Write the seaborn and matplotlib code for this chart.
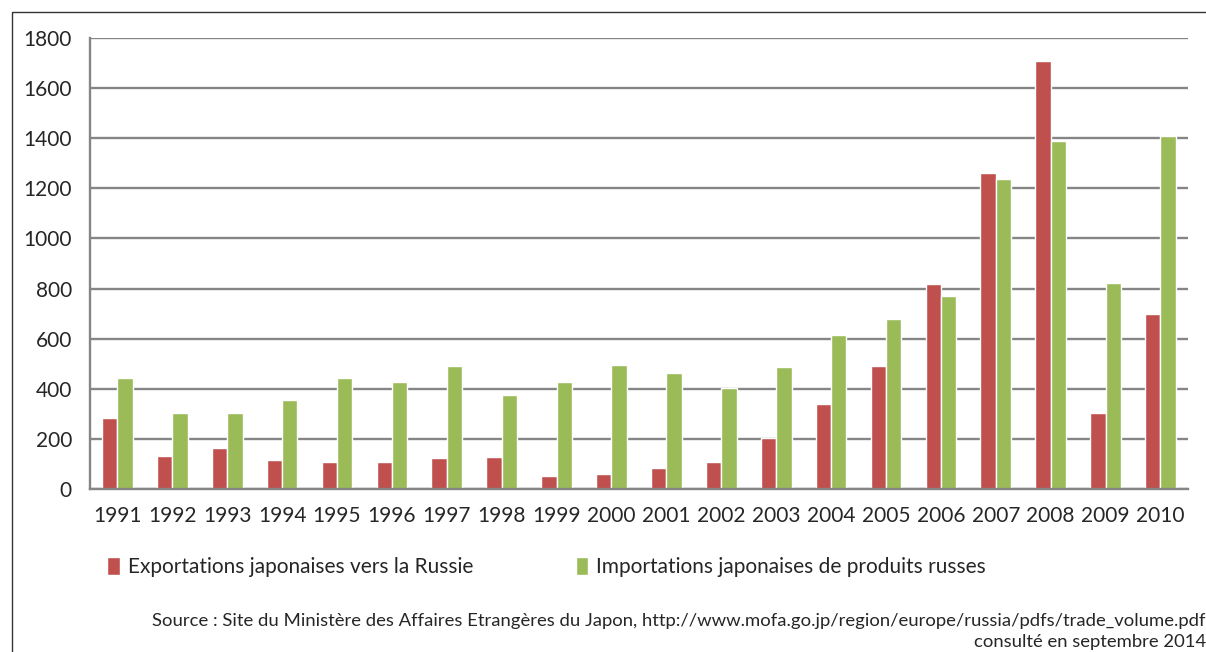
import numpy as np
import pandas as pd
import seaborn as sns
import matplotlib.pyplot as plt
from matplotlib.patches import Rectangle
from matplotlib.ticker import FixedLocator

# Données (millions de dollars)
annees = [str(a) for a in range(1991, 2011)]
exportations = [284, 133, 165, 117, 106, 106, 122, 127, 52, 58,
                84, 109, 203, 341, 492, 817, 1263, 1709, 304, 700]
importations = [445, 305, 305, 354, 445, 429, 489, 375, 429, 494,
                464, 405, 485, 615, 680, 769, 1237, 1387, 824, 1408]
lab_exp = "Exportations japonaises vers la Russie"
lab_imp = "Importations japonaises de produits russes"
couleurs = ["#C0504D", "#9BBB59"]

df = pd.DataFrame({
    "annee": annees * 2,
    "valeur": exportations + importations,
    "serie": [lab_exp] * len(annees) + [lab_imp] * len(annees),
})

sns.set_style("white")
plt.rcParams['font.family'] = ['Lato', 'DejaVu Sans']

fig = plt.figure(figsize=(12.06, 6.52), dpi=100)
ax = fig.add_axes([0.0746, 0.25, 0.9104, 0.6917])

sns.barplot(data=df, x="annee", y="valeur", hue="serie", palette=couleurs,
            width=0.56, gap=0, saturation=1, ax=ax, legend=True)

ax.set_ylim(0, 1800)
ax.set_xlim(-0.5, len(annees) - 0.5)
ax.set_yticks(range(0, 1801, 200))
ax.yaxis.grid(True, color="#858585", linewidth=1.7)
ax.set_axisbelow(True)
ax.set_xlabel("")
ax.set_ylabel("")

# petites graduations entre les années
ax.xaxis.set_minor_locator(FixedLocator(np.arange(-0.5, len(annees), 1)))
ax.tick_params(axis="x", which="major", length=0, labelsize=15, pad=12)
ax.tick_params(axis="x", which="minor", length=6, width=1.5, color="#858585")
ax.tick_params(axis="y", length=6, width=1.5, color="#858585", labelsize=15, pad=7)

for s in ["top", "right"]:
    ax.spines[s].set_visible(False)
for s in ["left", "bottom"]:
    ax.spines[s].set_color("#858585")
    ax.spines[s].set_linewidth(1.7)

leg = ax.legend(loc="upper left", bbox_to_anchor=(0.082, 0.158),
                bbox_transform=fig.transFigure, ncol=2, frameon=False,
                fontsize=15, handlelength=0.6, handleheight=0.9,
                handletextpad=0.4, columnspacing=4.9, borderaxespad=0)

fig.text(1.0, 0.036, "Source : Site du Ministère des Affaires Etrangères du Japon, "
         "http://www.mofa.go.jp/region/europe/russia/pdfs/trade_volume.pdf",
         ha="right", va="bottom", fontsize=13.3)
fig.text(1.0, 0.003, "consulté en septembre 2014", ha="right", va="bottom", fontsize=13.3)

# cadre autour de la figure
fig.patches.append(Rectangle((12 / 1206, -0.1), 1.2, 1.1 - 12 / 652,
                             transform=fig.transFigure, fill=False,
                             edgecolor="#333333", linewidth=1))

fig.savefig("out.png", dpi=100)
